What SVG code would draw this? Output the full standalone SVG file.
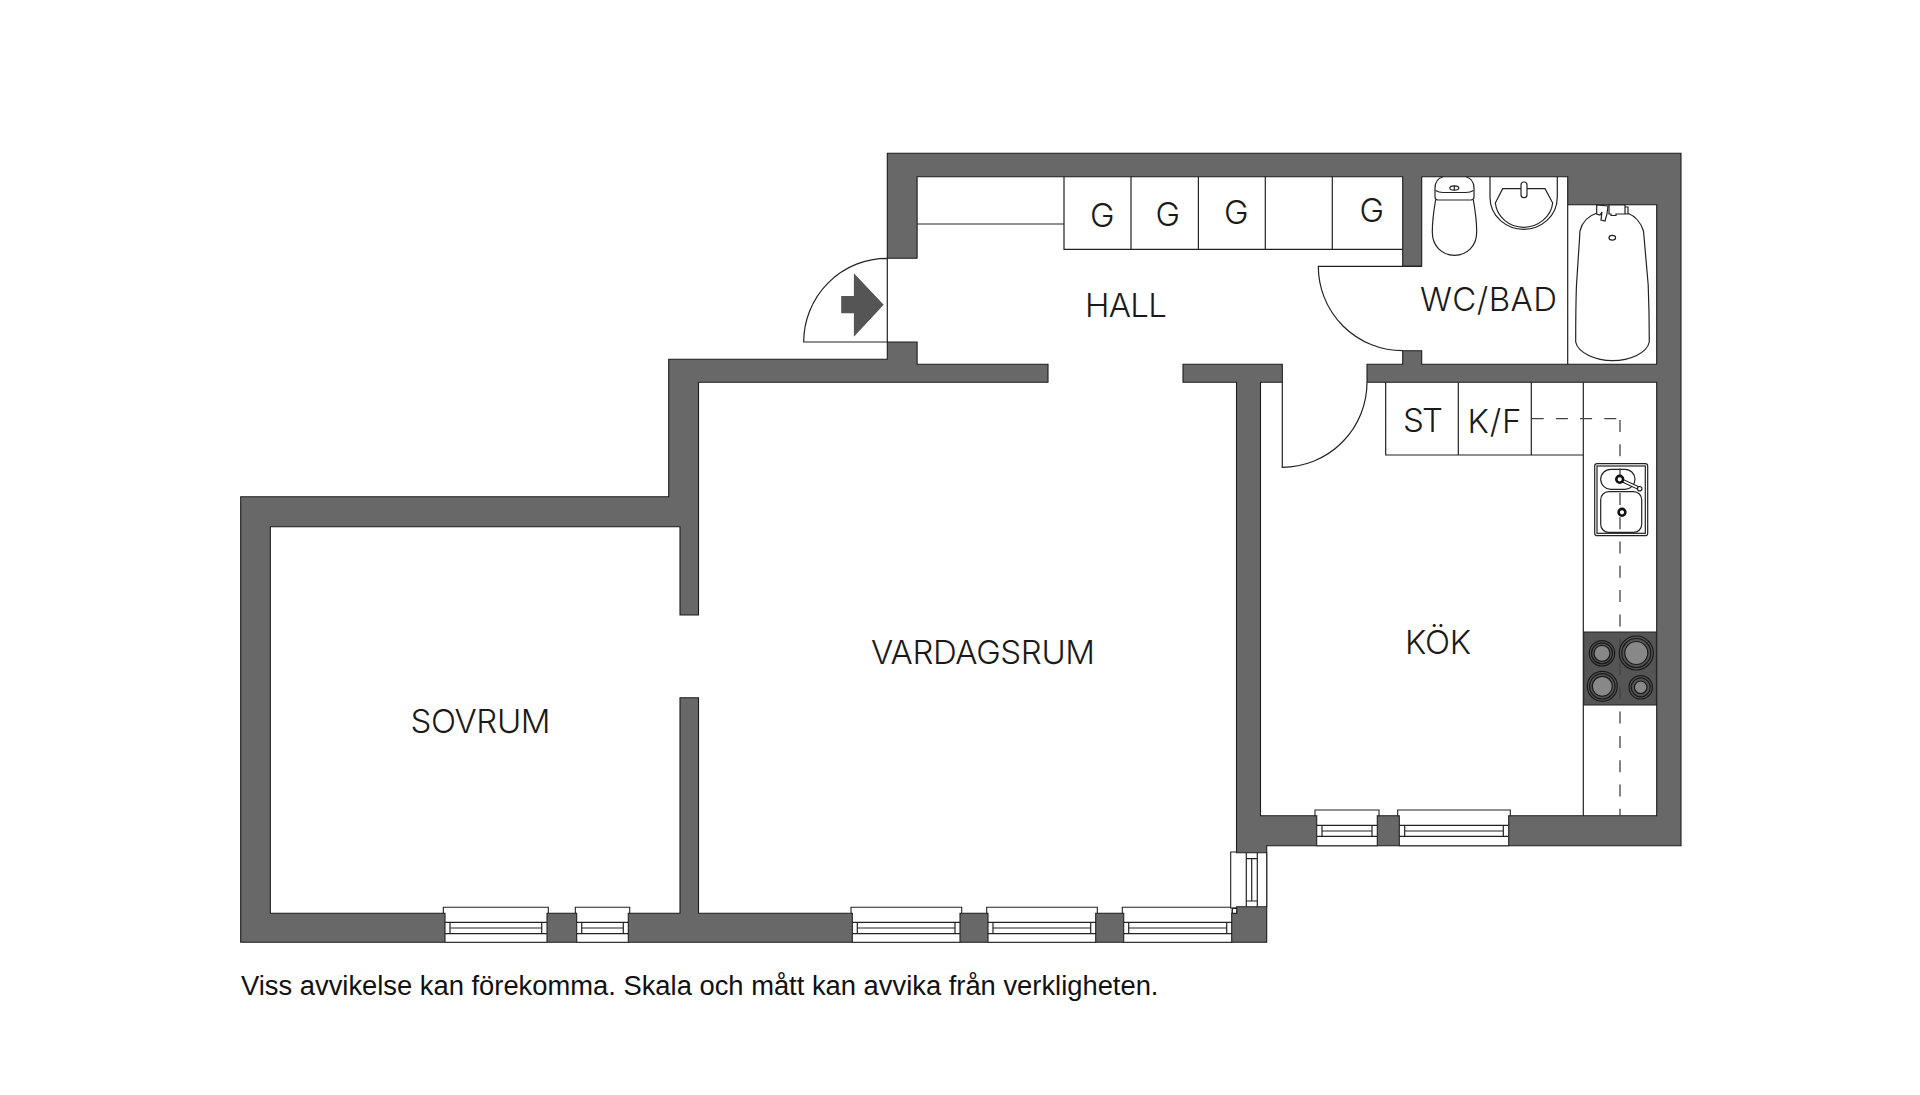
<svg xmlns="http://www.w3.org/2000/svg" width="1920" height="1095" viewBox="0 0 1920 1095">
<style>
.wall{fill:#686868;stroke:#1c1c1c;stroke-width:1.1;stroke-linejoin:miter}
.ln{fill:none;stroke:#222;stroke-width:1.2}
.wf{fill:#fff;stroke:#222;stroke-width:1.2}
.win{fill:#fff;stroke:#222;stroke-width:1.1}
.lbl{font-family:Inter,"Liberation Sans",sans-serif;font-weight:300;font-size:33px;fill:#1a1a1a}
.foot{font-family:"Liberation Sans",Arial,sans-serif;font-size:27.35px;fill:#111}
.dash{fill:none;stroke:#444;stroke-width:1.3}
.burn{fill:#888;stroke:#1a1a1a;stroke-width:1.2}
.ring{fill:#555;stroke:#1a1a1a;stroke-width:1.2}
</style>
<rect width="1920" height="1095" fill="#fff"/>
<g id="walls">
<path class="wall" d="M887.3 258.3V153.3H1681V845.7H1266.7V942.3H240.7V496.7H668.7V359.3H887.3V342H917.1V364.3H1048V382.3H698.5V615H680V526.7H270.3V913.3H680V697.7H698.5V913.3H1231.7V852.7H1236.5V382.3H1183V364.3H1282.3V382.3H1260.5V815.7H1656.7V382.3H1367V364.3H1402.7V350.7H1421.7V364.3H1656.7V204.7H1567.7V176.7H1421.7V266.3H1402.7V176.7H917.1V258.3Z"/>
</g>
<g id="windows">
<g id="win1">
<path class="win" d="M443.3 913.3V907.3H548.3V913.3H547V942.3H445V913.3Z"/>
<path class="ln" d="M445 922.3H547M445 933.7H547M450 922.3V933.7M541.7 922.3V933.7M450 928H541.7"/>
</g>
<g id="win2">
<path class="win" d="M575.3 913.3V907.3H629.7V913.3H628.3V942.3H576.7V913.3Z"/>
<path class="ln" d="M576.7 922.3H628.3M576.7 933.7H628.3M581.7 922.3V933.7M623.3 922.3V933.7M581.7 928H623.3"/>
</g>
<g id="win3">
<path class="win" d="M851 913.3V907.3H961.7V913.3H960V942.3H852.3V913.3Z"/>
<path class="ln" d="M852.3 922.3H960M852.3 933.7H960M857.3 922.3V933.7M955 922.3V933.7M857.3 928H955"/>
</g>
<g id="win4">
<path class="win" d="M986.7 913.3V907.3H1097.3V913.3H1095.7V942.3H988V913.3Z"/>
<path class="ln" d="M988 922.3H1095.7M988 933.7H1095.7M993 922.3V933.7M1090.7 922.3V933.7M993 928H1090.7"/>
</g>
<g id="win5">
<path class="win" d="M1122.3 913.3V907.3H1232.3V913.3H1231.7V942.3H1123.7V913.3Z"/>
<path class="ln" d="M1123.7 922.3H1231.7M1123.7 933.7H1231.7M1128.7 922.3V933.7M1226.7 922.3V933.7M1128.7 928H1226.7"/>
</g>
<g id="win6">
<path class="win" d="M1315 815.7V810H1379V815.7H1377.3V845.7H1316.7V815.7Z"/>
<path class="ln" d="M1316.7 825.3H1377.3M1316.7 836.3H1377.3M1322 825.3V836.3M1372 825.3V836.3M1322 831H1372"/>
</g>
<g id="win7">
<path class="win" d="M1397.7 815.7V810H1510.3V815.7H1508.7V845.7H1399.3V815.7Z"/>
<path class="ln" d="M1399.3 825.3H1508.7M1399.3 836.3H1508.7M1404.7 825.3V836.3M1503.3 825.3V836.3M1404.7 831H1503.3"/>
</g>
<g id="win8">
<path class="win" d="M1236.5 852.7H1266.7V906.7H1236.5V908H1230.7V852H1236.5Z"/>
<path class="ln" d="M1246.3 852.7V906.7M1257.3 852.7V906.7M1246.3 858.7H1257.3M1246.3 901H1257.3M1251.7 858.7V901"/>
<path class="wf" d="M1232.3 908.3H1236.7V913.3H1232.3Z"/>
</g>
</g>
<g id="entrance">
<path class="ln" d="M887.3 258.3A83.6 83.7 0 0 0 803.7 342H887.3V258.3"/>
<path fill="#555" d="M853.9 273.3L883.7 304.7 853.9 336.7V313.3H841.2V296H853.9Z"/>
</g>
<g id="doors">
<path class="ln" d="M1421.7 266.3H1318.3A84.4 84.4 0 0 0 1402.7 350.7"/>
<path class="ln" d="M1282.3 382.3V467.3A85 85 0 0 0 1367 382.3"/>
</g>
<g id="hall-cupboards">
<path class="ln" d="M917.1 224H1064M1064 176.7V249.3H1402.7M1131 176.7V249.3M1198.4 176.7V249.3M1265.3 176.7V249.3M1332.3 176.7V249.3"/>
</g>
<g id="kitchen-units">
<path class="ln" d="M1385.7 382.3V455H1583.3M1458.3 382.3V455M1531.3 382.3V455M1583.3 382.3V815.7"/>
<rect class="wf" x="1594.7" y="463.7" width="53" height="72" rx="2.5"/>
<rect class="ln" x="1597" y="466" width="48.3" height="67.3"/>
<rect class="ln" x="1600.7" y="469.3" width="34.3" height="20" rx="10"/>
<rect class="ln" x="1600.7" y="491.7" width="41" height="40.6" rx="8"/>
<rect x="1583.7" y="632" width="72.7" height="73" fill="#555" stroke="#222" stroke-width="1"/>
<path class="dash" stroke-dasharray="12 12.2" d="M1531.7 418.7H1620"/>
<path class="dash" stroke-dasharray="12 12.3" d="M1620 420V815.7"/>
</g>
<g id="sink">
<path d="M1619.7 479.3L1639.7 488.7" stroke="#111" stroke-width="3.6" fill="none"/>
<path d="M1619.7 479.3L1639.7 488.7" stroke="#fff" stroke-width="1.6" fill="none"/>
<circle class="wf" cx="1639.7" cy="488.7" r="2.2"/>
<circle cx="1619.7" cy="479.3" r="3.4" fill="#fff" stroke="#111" stroke-width="2.6"/>
<circle cx="1622" cy="512.3" r="3.4" fill="#fff" stroke="#111" stroke-width="2.6"/>
</g>
<g id="cooktop">
<circle class="ring" cx="1602" cy="653.3" r="12.7"/><circle class="ring" cx="1602" cy="653.3" r="10.5"/><circle class="burn" cx="1602" cy="653.3" r="8"/>
<circle class="ring" cx="1636.3" cy="653" r="17"/><circle class="ring" cx="1636.3" cy="653" r="14.5"/><circle class="burn" cx="1636.3" cy="653" r="11.5"/>
<circle class="ring" cx="1602.3" cy="686.3" r="15"/><circle class="ring" cx="1602.3" cy="686.3" r="12.7"/><circle class="burn" cx="1602.3" cy="686.3" r="10"/>
<circle class="ring" cx="1640.7" cy="687.3" r="11.7"/><circle class="ring" cx="1640.7" cy="687.3" r="9.5"/><circle class="burn" cx="1640.7" cy="687.3" r="6.3"/>
</g>
<g id="toilet">
<path class="ln" d="M1435.6 200C1433 215 1432.3 222 1432.3 232C1432.3 246 1442 255.3 1454.5 255.3C1467 255.3 1476.7 246 1476.7 232C1476.7 222 1476 215 1473.4 200"/>
<path class="ln" d="M1443 176.7C1437 178.5 1435 183 1435 188V197C1435 199 1436 200 1438 200H1471C1473 200 1474 199 1474 197V188C1474 183 1472 178.5 1466 176.7"/>
<path class="ln" d="M1435.5 190.5C1438 192 1440 192.5 1443 192.5H1466C1469 192.5 1471 192 1473.5 190.5"/>
<ellipse class="ln" cx="1454.3" cy="188" rx="4.5" ry="2.2"/>
<path class="ln" d="M1454.3 185.8V190.2"/>
</g>
<g id="basin">
<path class="ln" d="M1490 176.7V197C1490 217 1507 229.3 1523.7 229.3C1540.3 229.3 1557.3 217 1557.3 197V176.7"/>
<path class="ln" d="M1502.7 188.7H1545L1552.7 203C1551 217 1538 227.3 1523.7 227.3C1509 227.3 1497 217 1495.3 203Z"/>
<rect class="wf" x="1521" y="182" width="6" height="15.7" rx="3"/>
</g>
<g id="bath">
<path class="ln" d="M1567.7 204.7V364.3"/>
<path class="ln" d="M1596.5 213.3C1588 216 1582 223 1580 231L1576.5 285C1575.7 305 1575.7 325 1575.7 342C1578 353 1596 360.7 1612.5 360.7C1630 360.7 1647 353 1649.3 342C1649.3 325 1649 305 1648.2 285L1643.5 231C1641 223 1635 216 1628 213.3"/>
<ellipse class="ln" cx="1612.3" cy="237.7" rx="3.3" ry="2.4"/>
<path class="wf" d="M1596.7 205V214L1600 215L1602 212L1601 220L1605 221L1607 214L1608 206Z"/>
<path class="wf" d="M1609 205H1625V214H1616V215.5H1611V214H1609ZM1625 207H1628V214H1625Z"/>
</g>
<g id="labels">
<text class="lbl" x="1085" y="317.3" textLength="82" lengthAdjust="spacing">HALL</text>
<text class="lbl" x="1090" y="226.7">G</text>
<text class="lbl" x="1155.5" y="226">G</text>
<text class="lbl" x="1224" y="224">G</text>
<text class="lbl" x="1359.6" y="222">G</text>
<text class="lbl" x="1420" y="311" textLength="137" lengthAdjust="spacing">WC/BAD</text>
<text class="lbl" x="1403" y="431.7" textLength="40" lengthAdjust="spacing">ST</text>
<text class="lbl" x="1467.5" y="432.7" textLength="54" lengthAdjust="spacing">K/F</text>
<text class="lbl" x="1405" y="653.5" textLength="66" lengthAdjust="spacing">KÖK</text>
<text class="lbl" x="871" y="664" textLength="224" lengthAdjust="spacing">VARDAGSRUM</text>
<text class="lbl" x="410.5" y="733.3" textLength="140" lengthAdjust="spacing">SOVRUM</text>
<text class="foot" x="241" y="995">Viss avvikelse kan förekomma. Skala och mått kan avvika från verkligheten.</text>
</g>
</svg>
